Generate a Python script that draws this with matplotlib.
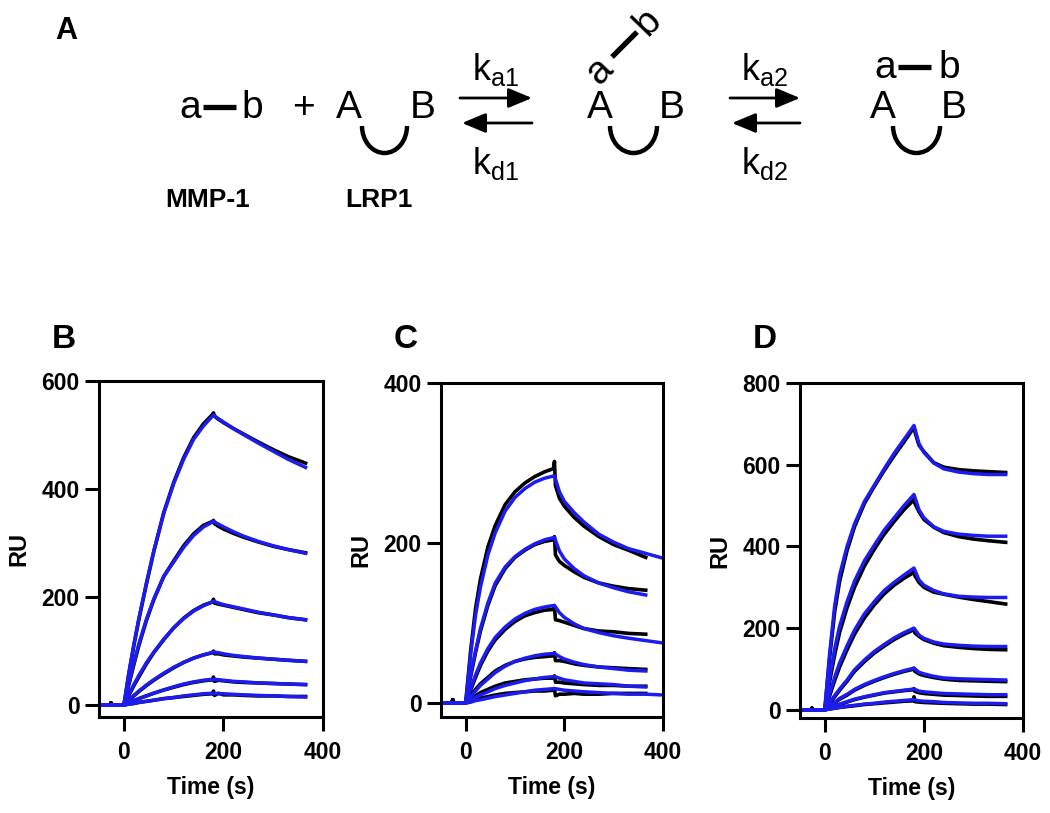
import matplotlib
matplotlib.use("Agg")
import matplotlib.pyplot as plt
from matplotlib.patches import Arc

plt.rcParams["font.family"] = ["Liberation Sans", "DejaVu Sans"]

# ── time grids (s) ──────────────────────────────────────────────────────────
BASE_T = [-50, -28, -26, -24, 0]
BASE_DATA = [0, 0, 4, 0, 0]
BASE_FIT = [0, 0, 0, 0, 0]
T_FIT = [0, 10, 20, 30, 45, 60, 80, 100, 120, 140, 160, 180,
         190, 200, 220, 240, 270, 300, 330, 365, 400]
T_DATA = [0, 10, 20, 30, 45, 60, 80, 100, 120, 140, 160, 178, 180, 182,
          190, 200, 220, 240, 270, 300, 330, 365]

# ── panel B (RU) ────────────────────────────────────────────────────────────
B_FIT = [
    [0, 60, 112, 160, 225, 285, 355, 410, 455, 492, 517, 537, 530, 524, 512, 501, 485, 470, 455, 440],
    [0, 40, 78, 113, 158, 196, 238, 265, 292, 314, 330, 340, 335, 330, 321, 313, 303, 295, 288, 281],
    [0, 20, 38, 55, 78, 98, 122, 143, 160, 174, 184, 192, 189, 186, 182, 178, 172, 167, 162, 158],
    [0, 9, 18, 26, 37, 47, 59, 70, 79, 87, 93, 98, 97, 95, 92, 90, 87, 85, 83, 81],
    [0, 4, 8, 12, 17, 22, 28, 34, 39, 43, 46, 48, 47, 46, 44, 43, 41, 40, 39, 38],
    [0, 2, 3, 5, 7, 9, 12, 14, 17, 19, 21, 22, 21, 21, 20, 19, 18, 17, 16, 15],
]
B_DATA = [
    [0, 58, 110, 158, 223, 284, 356, 412, 458, 495, 521, 538, 541, 535, 529, 523, 512, 502, 487, 473, 460, 448],
    [0, 38, 75, 110, 156, 195, 238, 267, 295, 317, 333, 340, 342, 336, 331, 326, 318, 311, 302, 294, 288, 282],
    [0, 18, 36, 52, 76, 97, 121, 143, 161, 175, 185, 191, 196, 189, 187, 185, 181, 177, 171, 167, 162, 158],
    [0, 8, 17, 25, 36, 46, 58, 69, 79, 87, 93, 97, 100, 95, 95, 93, 91, 89, 87, 85, 83, 81],
    [0, 4, 8, 12, 17, 22, 28, 33, 38, 42, 45, 47, 52, 44, 46, 45, 43, 42, 41, 40, 39, 38],
    [0, 2, 3, 5, 7, 9, 12, 14, 16, 18, 20, 21, 26, 18, 22, 19, 19, 18, 17, 17, 16, 16],
]

# ── panel C (RU) ────────────────────────────────────────────────────────────
C_FIT = [
    [0, 60, 110, 145, 185, 213, 240, 257, 268, 276, 281, 284, 264, 252, 238, 226, 211, 201, 193, 187, 181],
    [0, 35, 65, 93, 125, 150, 170, 183, 192, 199, 204, 207, 190, 180, 168, 159, 150, 144, 139, 135],
    [0, 18, 35, 50, 68, 82, 95, 105, 112, 117, 120, 122, 113, 107, 99, 93, 88, 84, 81, 78, 75],
    [0, 8, 15, 22, 30, 38, 46, 52, 56, 59, 61, 62, 58, 55, 51, 48, 45, 43, 41, 40],
    [0, 4, 7, 10, 14, 18, 22, 25, 28, 30, 32, 33, 31, 29, 27, 25, 24, 23, 21, 20],
    [0, 1, 3, 4, 6, 8, 10, 12, 14, 16, 17, 18, 17, 16, 15, 14, 13, 12, 11, 11, 10],
]
C_DATA = [
    [0, 65, 118, 155, 195, 222, 248, 264, 275, 283, 289, 293, 302, 272, 256, 246, 232, 221, 208, 198, 191, 182],
    [0, 33, 63, 90, 122, 147, 168, 182, 191, 198, 202, 204, 208, 185, 177, 172, 164, 157, 150, 146, 143, 141],
    [0, 16, 32, 47, 65, 79, 92, 102, 109, 113, 116, 117, 120, 104, 103, 101, 97, 93, 90, 89, 87, 86],
    [0, 9, 17, 24, 32, 40, 47, 52, 55, 57, 58, 59, 63, 53, 53, 52, 49, 47, 45, 44, 43, 42],
    [0, 5, 9, 13, 17, 21, 25, 27, 29, 30, 31, 31, 34, 26, 26, 25, 24, 23, 22, 22, 21, 21],
    [0, 2, 4, 6, 8, 10, 12, 13, 14, 15, 15, 16, 18, 9, 11, 11, 12, 11, 11, 12, 12, 12],
]

# ── panel D (RU) ────────────────────────────────────────────────────────────
D_FIT = [
    [0, 140, 255, 330, 400, 455, 510, 550, 590, 628, 662, 696, 652, 630, 604, 590, 582, 578, 576, 576],
    [0, 80, 150, 205, 265, 315, 365, 403, 440, 470, 500, 527, 490, 470, 448, 437, 430, 427, 425, 425],
    [0, 40, 80, 115, 157, 195, 235, 265, 292, 312, 330, 347, 318, 305, 292, 284, 278, 276, 275, 275],
    [0, 18, 35, 51, 73, 98, 122, 143, 160, 176, 189, 200, 183, 175, 166, 161, 158, 156, 155, 155],
    [0, 9, 18, 28, 38, 50, 62, 72, 81, 89, 96, 102, 92, 88, 82, 78, 76, 75, 74, 73],
    [0, 5, 9, 14, 20, 26, 32, 37, 42, 45, 48, 51, 46, 44, 42, 40, 39, 38, 37, 37],
    [0, 2, 4, 6, 9, 11, 14, 16, 19, 21, 23, 25, 22, 21, 20, 18, 17, 16, 16, 15],
]
D_DATA = [
    [0, 130, 240, 315, 390, 448, 505, 547, 586, 622, 656, 688, 690, 680, 648, 632, 605, 594, 588, 585, 583, 581],
    [0, 70, 135, 190, 250, 300, 352, 393, 430, 461, 490, 512, 515, 505, 485, 466, 447, 434, 424, 418, 414, 410],
    [0, 35, 72, 105, 147, 185, 225, 257, 284, 305, 322, 335, 338, 328, 312, 300, 288, 283, 276, 270, 265, 259],
    [0, 16, 32, 48, 70, 94, 118, 139, 156, 172, 185, 195, 198, 188, 180, 172, 163, 157, 153, 150, 148, 147],
    [0, 8, 17, 26, 36, 48, 60, 70, 79, 87, 94, 99, 102, 94, 88, 84, 79, 75, 72, 71, 70, 69],
    [0, 4, 9, 13, 19, 25, 31, 36, 41, 44, 47, 49, 52, 45, 42, 40, 38, 36, 35, 34, 33, 33],
    [0, 2, 4, 6, 8, 10, 13, 15, 17, 19, 21, 22, 32, 20, 19, 18, 17, 16, 15, 14, 14, 13],
]

PANELS = [
    ("B", B_DATA, B_FIT, (-22, 600), [0, 200, 400, 600], [99, 323, 381, 717]),
    ("C", C_DATA, C_FIT, (-17.5, 400), [0, 200, 400], [441, 663, 383, 717]),
    ("D", D_DATA, D_FIT, (-20, 800), [0, 200, 400, 600, 800], [800, 1023, 383, 718]),
]

W, H = 1050, 813
BLUE = "#1c1cf0"
fig = plt.figure(figsize=(W / 100, H / 100), dpi=100)

# ── panel A: reaction scheme drawn in pixel coordinates ─────────────────────
sch = fig.add_axes([0, 0, 1, 1])
sch.set_xlim(0, W)
sch.set_ylim(H, 0)
sch.axis("off")

FS = 28
def letter(x, y, s, **kw):
    sch.text(x, y, s, fontsize=FS, ha="center", va="baseline", **kw)

def cup(xc, width):
    sch.add_patch(Arc((xc, 126), width, 54, theta1=0, theta2=180, lw=3.2, color="black"))

def bar(x0, y0, x1, y1):
    sch.plot([x0, x1], [y0, y1], color="black", lw=3.8, solid_capstyle="butt")

sch.text(55, 39, "A", fontsize=22, fontweight="bold", va="baseline")

# free MMP-1 + LRP1
letter(190, 118, "a"); bar(203, 107, 236, 107); letter(252, 118, "b")
letter(303, 118, "+")
letter(349, 118, "A"); letter(423, 118, "B"); cup(384.5, 45)
sch.text(208, 207, "MMP-1", fontsize=19, fontweight="bold", ha="center", va="baseline")
sch.text(379, 207, "LRP1", fontsize=19, fontweight="bold", ha="center", va="baseline")

# intermediate complex
letter(600, 118, "A"); letter(672, 118, "B"); cup(633.5, 47)
sch.text(600, 71, "a", fontsize=FS, ha="center", va="center", rotation=46)
bar(612, 57, 637, 32)
sch.text(648, 22, "b", fontsize=FS, ha="center", va="center", rotation=46)

# final complex
letter(885, 78, "a"); bar(898, 67, 931, 67); letter(949, 78, "b")
letter(883, 118, "A"); letter(954, 118, "B"); cup(916.5, 47)

# rate arrows
ARW = dict(arrowstyle="-|>,head_length=0.6,head_width=0.25", lw=2, color="black",
           mutation_scale=24, shrinkA=0, shrinkB=0)
for xa, xb, ka, kd, kx in [(460, 532, r"$\mathregular{k_{a1}}$", r"$\mathregular{k_{d1}}$", 496),
                           (730, 800, r"$\mathregular{k_{a2}}$", r"$\mathregular{k_{d2}}$", 765)]:
    sch.annotate("", xy=(xb, 98), xytext=(xa, 98), arrowprops=ARW)
    sch.annotate("", xy=(xa + 2, 123), xytext=(xb, 123), arrowprops=ARW)
    sch.text(kx, 80, ka, fontsize=26, ha="center", va="baseline")
    sch.text(kx, 174, kd, fontsize=26, ha="center", va="baseline")

# ── panels B–D: sensorgrams ─────────────────────────────────────────────────
for name, data, fits, ylim, yticks, (x0, x1, y0, y1) in PANELS:
    ax = fig.add_axes([x0 / W, 1 - y1 / H, (x1 - x0) / W, (y1 - y0) / H])
    for trace in data:
        ax.plot(BASE_T + T_DATA[:len(trace)], BASE_DATA + trace, color="black", lw=2.6)
    for fit in fits:
        ax.plot(BASE_T + T_FIT[:len(fit)], BASE_FIT + fit, color=BLUE, lw=2.5)
    ax.set_xlim(-50, 400)
    ax.set_ylim(*ylim)
    ax.set_xticks([0, 200, 400])
    ax.set_yticks(yticks)
    for sp in ax.spines.values():
        sp.set_linewidth(2.2)
    ax.tick_params(direction="out", length=10, width=2.2, labelsize=16.5, pad=4)
    ax.tick_params(axis="x", pad=7)
    for lab in ax.get_xticklabels() + ax.get_yticklabels():
        lab.set_fontweight("bold")
    ax.set_xlabel("Time (s)", fontsize=16.5, fontweight="bold", labelpad=9)
    ax.set_ylabel("RU", fontsize=17, fontweight="bold", labelpad=8)
    fig.text((x0 - 47) / W, 1 - 348 / H, name, fontsize=24, fontweight="bold")

fig.savefig("out.png", dpi=100)
